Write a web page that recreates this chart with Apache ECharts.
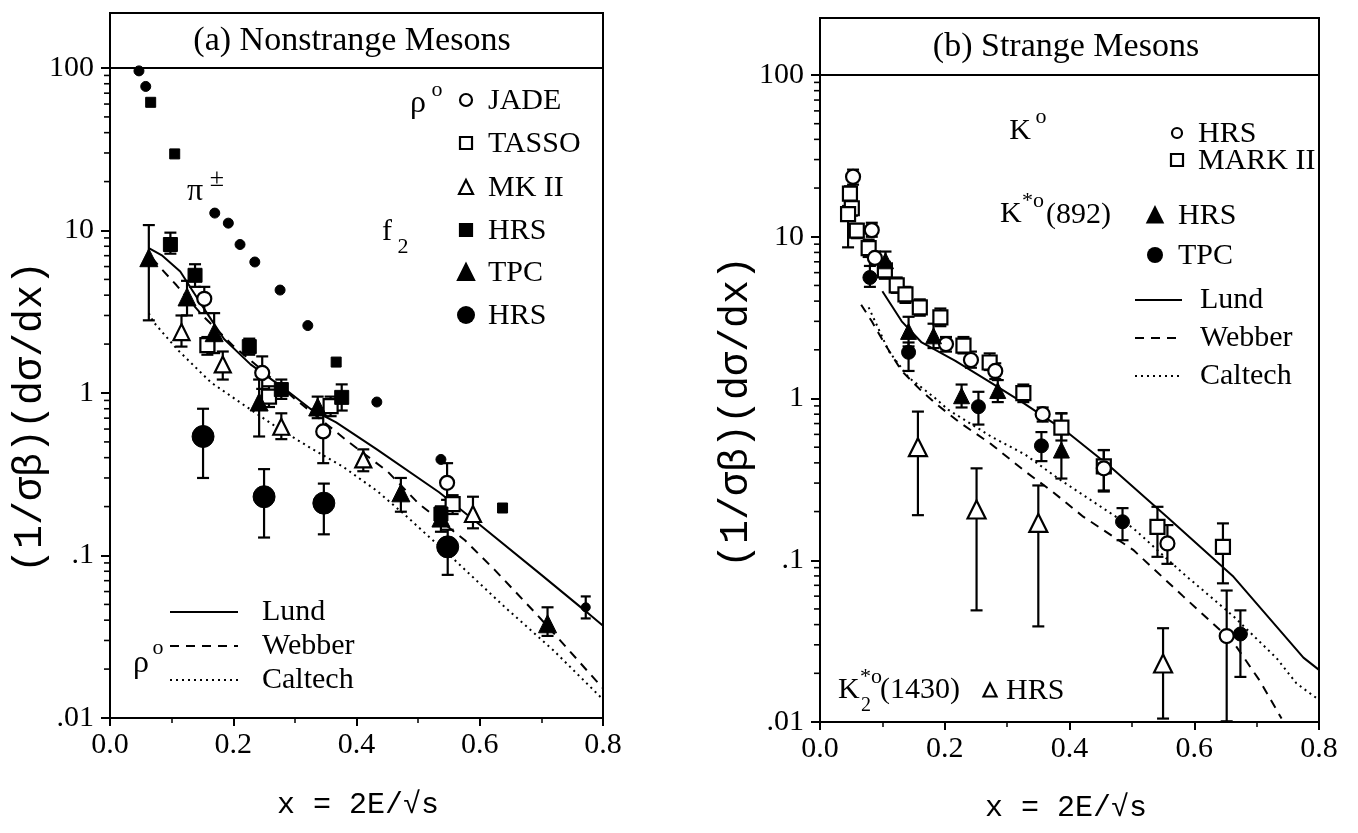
<!DOCTYPE html>
<html><head><meta charset="utf-8">
<script src="https://cdn.jsdelivr.net/npm/echarts@6/dist/echarts.min.js"></script>
<style>html,body{margin:0;padding:0;background:#fff}#c{width:1358px;height:833px}</style>
</head><body><div id="c"></div>
<script>
// ---------- tick labels ----------
const xTickLabels = ['0.0', '0.2', '0.4', '0.6', '0.8'];
const yTickLabels = {'2': '100', '1': '10', '0': '1', '-1': '.1', '-2': '.01'};

// ---------- Panel (a) Nonstrange mesons: [x, y, low, high] ----------
const aJADE  = [[0.153,3.8,3.1,4.5],[0.247,1.33,1.06,1.68],[0.346,0.58,0.37,0.77],[0.547,0.28,0.22,0.37]];
const aTASSO = [[0.158,1.97,1.72,2.21],[0.258,0.95,0.82,1.1],[0.358,0.83,0.72,0.95],[0.556,0.207,0.18,0.235]];
const aMKII  = [[0.116,2.37,1.93,3.0],[0.183,1.5,1.21,1.8],[0.278,0.62,0.52,0.75],[0.411,0.39,0.33,0.45],[0.589,0.18,0.147,0.23]];
const aHRSsq = [[0.098,8.2,7.2,9.7],[0.138,5.3,4.5,6.2],[0.226,1.93,1.72,2.16],[0.278,1.05,0.92,1.21],[0.376,0.94,0.78,1.13],[0.537,0.18,0.16,0.2]];
const aTPC   = [[0.063,6.8,2.8,10.8],[0.125,3.9,3.0,4.9],[0.169,2.35,1.76,3.1],[0.242,0.88,0.54,1.21],[0.337,0.82,0.7,0.95],[0.472,0.243,0.186,0.30],[0.537,0.17,0.14,0.2],[0.71,0.038,0.032,0.048]];
const aHRSci = [[0.151,0.54,0.30,0.80],[0.25,0.23,0.129,0.34],[0.347,0.21,0.135,0.277],[0.548,0.113,0.076,0.144]];
const aPiDots = [[0.047,96],[0.058,77],[0.17,12.8],[0.192,11.1],[0.211,8.2],[0.235,6.4],[0.276,4.3],[0.321,2.6],[0.433,0.88],[0.537,0.39]];
const aPiSq   = [[0.066,61.5],[0.105,29.6],[0.367,1.55],[0.637,0.196]];
const aPiErr  = [[0.772,0.048,0.041,0.056]];
const aLund    = [[0.063,7.8],[0.085,7.0],[0.114,5.6],[0.135,4.2],[0.155,3.2],[0.185,2.15],[0.228,1.5],[0.288,1.03],[0.325,0.8],[0.367,0.66],[0.433,0.45],[0.534,0.245],[0.597,0.158],[0.70,0.076],[0.773,0.045],[0.80,0.037]];
const aWebber  = [[0.068,6.8],[0.08,6.0],[0.108,4.6],[0.15,3.0],[0.2,1.95],[0.25,1.35],[0.3,0.92],[0.35,0.65],[0.384,0.51],[0.45,0.33],[0.5,0.21],[0.576,0.124],[0.625,0.081],[0.691,0.044],[0.724,0.032],[0.8,0.0152]];
const aCaltech = [[0.063,3.1],[0.07,2.75],[0.11,1.84],[0.164,1.16],[0.218,0.84],[0.272,0.61],[0.325,0.46],[0.379,0.35],[0.433,0.25],[0.477,0.18],[0.559,0.094],[0.641,0.048],[0.72,0.026],[0.8,0.013]];

// ---------- Panel (b) Strange mesons ----------
const bK0HRS  = [[0.053,23.5,21,26],[0.083,11,10,12.2],[0.088,7.4,6.8,8.1],[0.202,2.17,1.95,2.4],[0.242,1.73,1.55,1.95],[0.281,1.48,1.32,1.65],[0.357,0.80,0.72,0.88],[0.455,0.37,0.27,0.48],[0.557,0.127,0.095,0.165],[0.652,0.034,0.0101,0.065]];
const bK0MK2  = [[0.048,18.5,16.5,20.5],[0.051,15,13.5,16.5],[0.045,13.8,8.6,15.5],[0.059,10.9,9.8,12],[0.078,8.5,7.5,9.6],[0.104,6.2,5.5,7],[0.123,5.0,4.5,5.6],[0.137,4.4,3.9,4.9],[0.160,3.66,3.25,4.1],[0.193,3.17,2.8,3.6],[0.230,2.12,1.9,2.4],[0.272,1.67,1.5,1.9],[0.326,1.08,0.95,1.22],[0.387,0.66,0.55,0.81],[0.455,0.38,0.266,0.48],[0.541,0.161,0.105,0.214],[0.646,0.121,0.072,0.169]];
const bKsHRS  = [[0.105,7.1,6.2,8.1],[0.142,2.6,2.1,3.2],[0.182,2.44,2.05,2.9],[0.227,1.04,0.88,1.22],[0.285,1.12,0.95,1.3],[0.387,0.48,0.32,0.81]];
const bKsTPC  = [[0.080,5.6,4.9,6.6],[0.142,1.93,1.48,2.22],[0.254,0.89,0.69,1.1],[0.355,0.51,0.41,0.62],[0.485,0.173,0.133,0.21],[0.674,0.035,0.019,0.049]];
const bK2HRS  = [[0.157,0.50,0.19,0.83],[0.251,0.206,0.049,0.37],[0.350,0.17,0.039,0.29],[0.550,0.023,0.0105,0.038]];
const bLund    = [[0.1,4.6],[0.131,3.0],[0.163,2.22],[0.217,1.71],[0.27,1.28],[0.324,0.95],[0.396,0.62],[0.465,0.38],[0.556,0.186],[0.663,0.079],[0.775,0.025],[0.8,0.021]];
const bWebber  = [[0.066,3.8],[0.083,3.0],[0.104,2.17],[0.131,1.48],[0.163,1.11],[0.187,0.92],[0.222,0.72],[0.275,0.52],[0.329,0.354],[0.372,0.267],[0.422,0.186],[0.502,0.116],[0.582,0.06],[0.663,0.031],[0.705,0.018],[0.74,0.0105]];
const bCaltech = [[0.078,3.66],[0.11,1.97],[0.142,1.35],[0.184,1.01],[0.206,0.85],[0.275,0.58],[0.329,0.45],[0.382,0.32],[0.502,0.158],[0.582,0.083],[0.663,0.045],[0.732,0.0248],[0.764,0.0173],[0.8,0.0137]];

// ---------- rendering ----------
const SERIF = '"Liberation Serif","DejaVu Serif",serif';
const MONO = '"Liberation Mono","DejaVu Sans Mono",monospace';
const K = '#000';

const minorVals = [];
for (let e = -2; e <= 1; e++) for (let k = 2; k <= 9; k++) minorVals.push(k * Math.pow(10, e));

function xAxisCfg(gi) {
  return {type: 'value', gridIndex: gi, min: 0, max: 0.8, interval: 0.2,
    axisLine: {show: true, onZero: false, lineStyle: {color: K, width: 2}},
    axisTick: {show: true, length: 8, lineStyle: {color: K, width: 2}},
    minorTick: {show: true, splitNumber: 2, length: 5, lineStyle: {color: K, width: 1.5}},
    axisLabel: {formatter: v => xTickLabels[Math.round(v / 0.2)], fontFamily: SERIF, fontSize: 30, color: K, margin: 12},
    splitLine: {show: false}, minorSplitLine: {show: false}};
}
function yAxisCfg(gi) {
  return {type: 'log', logBase: 10, gridIndex: gi, min: 0.01, max: 100,
    axisLine: {show: true, onZero: false, lineStyle: {color: K, width: 2}},
    axisTick: {show: true, length: 9, lineStyle: {color: K, width: 2}},
    axisLabel: {formatter: v => yTickLabels[String(Math.round(Math.log10(v)))], fontFamily: SERIF, fontSize: 30, color: K, margin: 16},
    splitLine: {show: false}};
}
function minorSeries(i) {
  return {type: 'custom', xAxisIndex: i, yAxisIndex: i, silent: true, z: 5,
    data: minorVals.map(v => [0, v]),
    renderItem(p, api) {
      const c = api.coord([0, api.value(1)]);
      return {type: 'line', shape: {x1: c[0] - 6, y1: c[1], x2: c[0], y2: c[1]}, style: {stroke: K, lineWidth: 1.6}};
    }};
}
function errSeries(data, i, cap) {
  return {type: 'custom', xAxisIndex: i, yAxisIndex: i, silent: true, z: 2,
    data: data.map(d => [d[0], d[2], d[3]]),
    encode: {x: 0, y: [1, 2]},
    renderItem(p, api) {
      const x = api.value(0);
      const a = api.coord([x, api.value(1)]);
      const b = api.coord([x, api.value(2)]);
      const w = cap || 6;
      const st = {stroke: K, lineWidth: 2.2};
      return {type: 'group', children: [
        {type: 'line', shape: {x1: a[0], y1: a[1], x2: b[0], y2: b[1]}, style: st},
        {type: 'line', shape: {x1: a[0] - w, y1: a[1], x2: a[0] + w, y2: a[1]}, style: st},
        {type: 'line', shape: {x1: b[0] - w, y1: b[1], x2: b[0] + w, y2: b[1]}, style: st}
      ]};
    }};
}
function scat(data, i, symbol, size, filled) {
  return {type: 'scatter', xAxisIndex: i, yAxisIndex: i, symbol: symbol, symbolSize: size, z: 4,
    data: data.map(d => [d[0], d[1]]),
    itemStyle: filled ? {color: K, borderColor: K, borderWidth: 1, opacity: 1} : {color: '#fff', borderColor: K, borderWidth: 2.2, opacity: 1},
    emphasis: {disabled: true}};
}
function model(data, i, type) {
  return {type: 'line', xAxisIndex: i, yAxisIndex: i, data: data, showSymbol: false, symbol: 'none', smooth: false, z: 3,
    clip: true, lineStyle: {color: K, width: 2, type: type, opacity: 1}, emphasis: {disabled: true}};
}

const series = [
  minorSeries(0), minorSeries(1),
  model(aLund, 0, 'solid'), model(aWebber, 0, [9, 7]), model(aCaltech, 0, [2, 4]),
  model(bLund, 1, 'solid'), model(bWebber, 1, [9, 7]), model(bCaltech, 1, [2, 4]),
  errSeries(aJADE, 0), errSeries(aTASSO, 0), errSeries(aMKII, 0), errSeries(aHRSsq, 0),
  errSeries(aTPC, 0), errSeries(aHRSci, 0), errSeries(aPiErr, 0, 5),
  scat(aPiDots, 0, 'circle', 10, true), scat(aPiSq, 0, 'rect', 10, true), scat(aPiErr, 0, 'circle', 9, true),
  scat(aJADE, 0, 'circle', 14, false), scat(aTASSO, 0, 'rect', 14, false), scat(aMKII, 0, 'triangle', 16, false),
  scat(aHRSsq, 0, 'rect', 14, true), scat(aTPC, 0, 'triangle', 18, true), scat(aHRSci, 0, 'circle', 22, true),
  errSeries(bK0HRS, 1), errSeries(bK0MK2, 1), errSeries(bKsHRS, 1), errSeries(bKsTPC, 1), errSeries(bK2HRS, 1),
  scat(bK0MK2, 1, 'rect', 14, false), scat(bK0HRS, 1, 'circle', 14, false),
  scat(bKsHRS, 1, 'triangle', 16, true), scat(bKsTPC, 1, 'circle', 14, true), scat(bK2HRS, 1, 'triangle', 18, false)
];

// ---------- annotation helpers ----------
function T(text, x, y, size, align, font) {
  return {type: 'text', z: 10, style: {text: text, x: x, y: y, font: (size || 30) + 'px ' + (font || SERIF), fill: K,
    textAlign: align || 'left', textVerticalAlign: 'middle'}};
}
function openCircle(x, y, r) { return {type: 'circle', z: 10, shape: {cx: x, cy: y, r: r}, style: {fill: '#fff', stroke: K, lineWidth: 2.2}}; }
function fillCircle(x, y, r) { return {type: 'circle', z: 10, shape: {cx: x, cy: y, r: r}, style: {fill: K}}; }
function square(x, y, s, filled) { return {type: 'rect', z: 10, shape: {x: x - s / 2, y: y - s / 2, width: s, height: s}, style: {fill: filled ? K : '#fff', stroke: K, lineWidth: 2.2}}; }
function tri(x, y, s, filled) { return {type: 'polygon', z: 10, shape: {points: [[x, y - s / 2], [x + s / 2, y + s / 2], [x - s / 2, y + s / 2]]}, style: {fill: filled ? K : '#fff', stroke: K, lineWidth: 2.2}}; }
function seg(x1, x2, y, dash) { return {type: 'line', z: 10, shape: {x1: x1, y1: y, x2: x2, y2: y}, style: {stroke: K, lineWidth: 2, lineDash: dash || null}}; }

const graphics = [
  // panel a header
  {type: 'rect', z: 9, shape: {x: 110, y: 13, width: 493, height: 55}, style: {fill: 'none', stroke: K, lineWidth: 2}},
  T('(a) Nonstrange Mesons', 352, 41, 34, 'center'),
  T('ρ', 418, 104, 32, 'center'), T('o', 437, 90, 22, 'center'),
  openCircle(466, 100, 6), T('JADE', 488, 101),
  square(466, 143, 12, false), T('TASSO', 488, 144),
  tri(466, 187, 14, false), T('MK II', 488, 188),
  square(466, 230, 12, true), T('HRS', 488, 231),
  tri(466, 272, 16, true), T('TPC', 488, 273),
  fillCircle(466, 315, 9), T('HRS', 488, 316),
  T('π', 195, 192, 32, 'center'), T('±', 217, 179, 26, 'center'),
  T('f', 387, 232, 30, 'center'), T('2', 403, 247, 22, 'center'),
  seg(170, 238, 612), T('Lund', 262, 612),
  seg(170, 238, 646, [9, 7]), T('Webber', 262, 646),
  seg(170, 238, 680, [2, 4]), T('Caltech', 262, 680),
  T('ρ', 141, 664, 32, 'center'), T('o', 158, 648, 22, 'center'),
  {type: 'text', z: 10, x: 30, y: 417, rotation: Math.PI / 2,
    style: {text: '(1/σβ)(dσ/dx)', font: '40px ' + MONO, fill: K, textAlign: 'center', textVerticalAlign: 'middle'}},
  T('x = 2E/√s', 358, 805, 30, 'center', MONO),

  // panel b header
  {type: 'rect', z: 9, shape: {x: 820, y: 18, width: 499, height: 57}, style: {fill: 'none', stroke: K, lineWidth: 2}},
  T('(b) Strange Mesons', 1066, 47, 34, 'center'),
  T('K', 1020, 131, 30, 'center'), T('o', 1041, 117, 22, 'center'),
  openCircle(1177, 133, 5), T('HRS', 1198, 134),
  square(1177, 160, 12, false), T('MARK II', 1198, 161),
  T('K', 1000, 214), T('*o', 1022, 201, 22), T('(892)', 1046, 215, 30),
  tri(1155, 215, 15, true), T('HRS', 1178, 216),
  fillCircle(1155, 255, 8), T('TPC', 1178, 256),
  seg(1135, 1182, 300), T('Lund', 1200, 300),
  seg(1135, 1182, 338, [9, 7]), T('Webber', 1200, 338),
  seg(1135, 1182, 376, [2, 4]), T('Caltech', 1200, 376),
  T('K', 838, 690, 30), T('*o', 860, 677, 22), T('2', 861, 706, 20), T('(1430)', 880, 690, 30),
  tri(990, 690, 13, false), T('HRS', 1006, 691),
  {type: 'text', z: 10, x: 736, y: 412, rotation: Math.PI / 2,
    style: {text: '(1/σβ)(dσ/dx)', font: '40px ' + MONO, fill: K, textAlign: 'center', textVerticalAlign: 'middle'}},
  T('x = 2E/√s', 1066, 808, 30, 'center', MONO)
];

const chart = echarts.init(document.getElementById('c'), null, {renderer: 'canvas'});
chart.setOption({
  animation: false,
  backgroundColor: '#fff',
  grid: [
    {left: 110, top: 68, width: 493, height: 650, show: true, borderColor: K, borderWidth: 2, backgroundColor: 'transparent', containLabel: false},
    {left: 820, top: 75, width: 499, height: 647, show: true, borderColor: K, borderWidth: 2, backgroundColor: 'transparent', containLabel: false}
  ],
  xAxis: [xAxisCfg(0), xAxisCfg(1)],
  yAxis: [yAxisCfg(0), yAxisCfg(1)],
  series: series,
  graphic: graphics
});
</script>
</body></html>
